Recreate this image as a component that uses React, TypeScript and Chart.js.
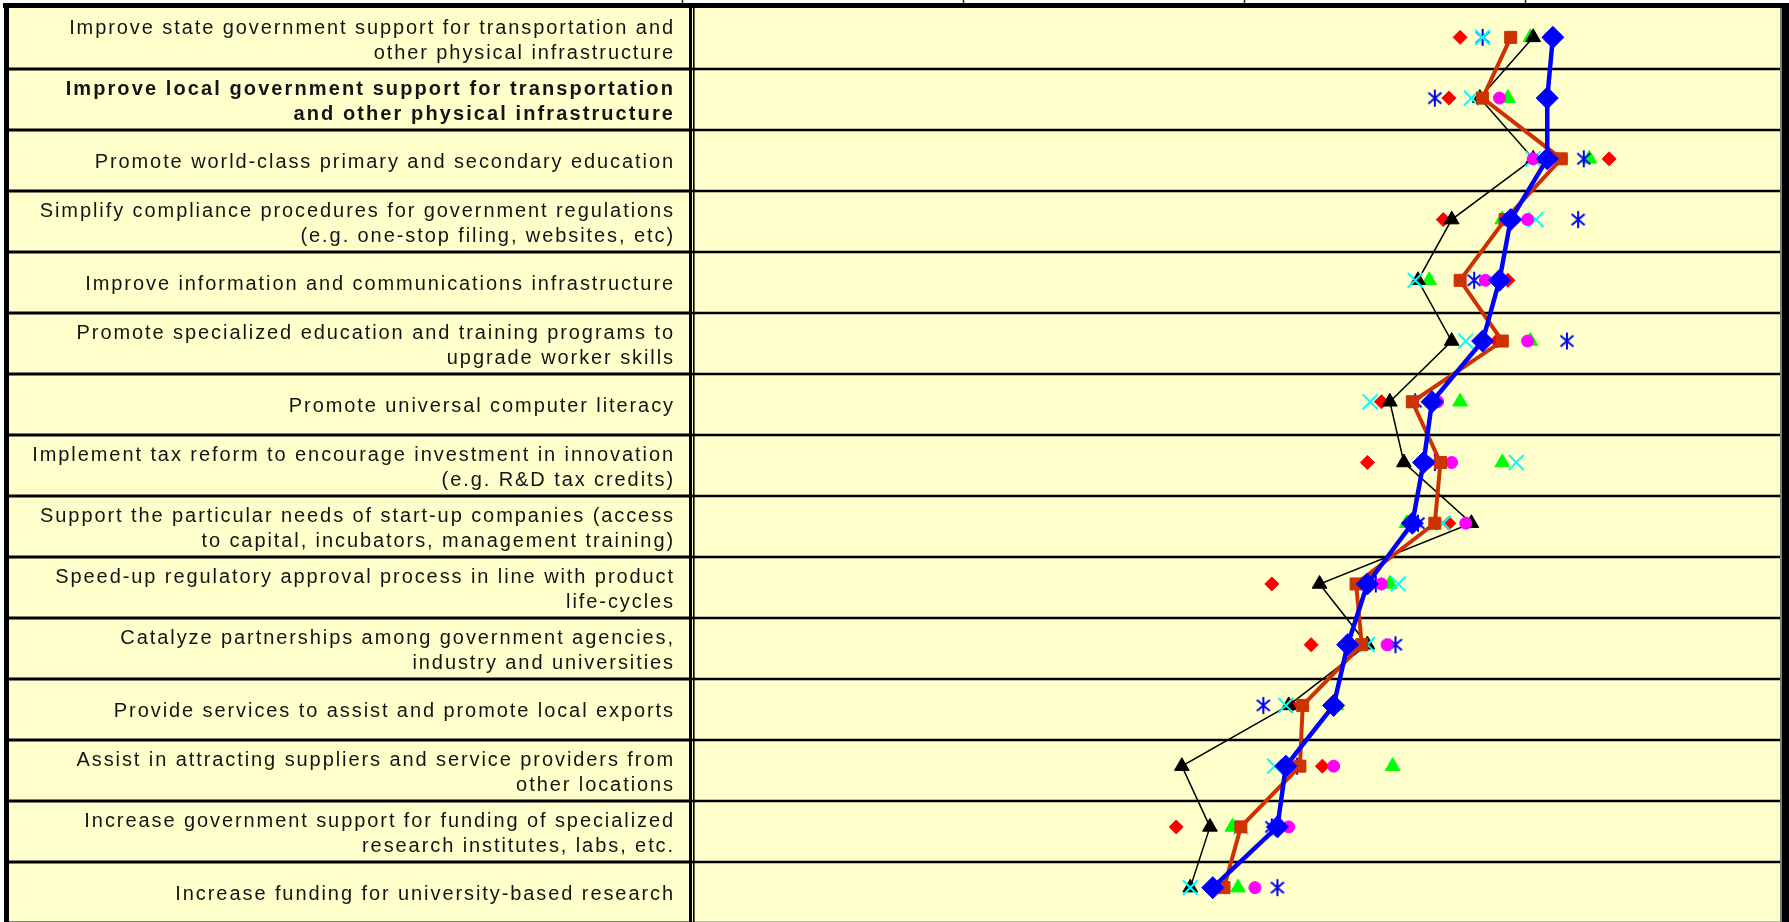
import { useEffect, useRef } from 'react';
import { Chart, registerables } from 'chart.js';

Chart.register(...registerables);

const categories: string[][] = [
  ['Improve state government support for transportation and', 'other physical infrastructure'],
  ['Improve local government support for transportation', 'and other physical infrastructure'],
  ['Promote world-class primary and secondary education'],
  ['Simplify compliance procedures for government regulations', '(e.g. one-stop filing, websites, etc)'],
  ['Improve information and communications infrastructure'],
  ['Promote specialized education and training programs to', 'upgrade worker skills'],
  ['Promote universal computer literacy'],
  ['Implement tax reform to encourage investment in innovation', '(e.g. R&D tax credits)'],
  ['Support the particular needs of start-up companies (access', 'to capital, incubators, management training)'],
  ['Speed-up regulatory approval process in line with product', 'life-cycles'],
  ['Catalyze partnerships among government agencies,', 'industry and universities'],
  ['Provide services to assist and promote local exports'],
  ['Assist in attracting suppliers and service providers from', 'other locations'],
  ['Increase government support for funding of specialized', 'research institutes, labs, etc.'],
  ['Increase funding for university-based research'],
];
const boldRows = [1];

const redDiamond = [3.77, 3.73, 4.30, 3.71, 3.94, 3.90, 3.49, 3.44, 3.73, 3.10, 3.24, 3.17, 3.28, 2.76, 2.89];
const blueAsterisk = [3.85, 3.68, 4.21, 4.19, 3.82, 4.15, 3.61, 3.68, 3.62, 3.47, 3.54, 3.07, 3.19, 3.10, 3.12];
const cyanCross = [3.85, 3.81, 4.03, 4.04, 3.61, 3.79, 3.45, 3.97, 3.71, 3.55, 3.44, 3.15, 3.11, 2.99, 2.81];
const magentaCircle = [4.09, 3.91, 4.03, 4.01, 3.86, 4.01, 3.69, 3.74, 3.79, 3.49, 3.51, 3.31, 3.32, 3.16, 3.04];
const greenTriangle = [4.02, 3.94, 4.23, 3.92, 3.66, 4.02, 3.77, 3.92, 3.58, 3.52, 3.44, 3.33, 3.53, 2.96, 2.98];
const blackTriangle = [4.03, 3.84, 4.03, 3.74, 3.62, 3.74, 3.52, 3.57, 3.81, 3.27, 3.44, 3.16, 2.78, 2.88, 2.81];
const orangeSquare = [3.95, 3.85, 4.13, 3.93, 3.77, 3.92, 3.60, 3.70, 3.68, 3.40, 3.42, 3.21, 3.20, 2.99, 2.93];
const blueDiamond = [4.10, 4.08, 4.08, 3.95, 3.91, 3.85, 3.67, 3.64, 3.60, 3.44, 3.37, 3.32, 3.15, 3.12, 2.89];

const xMin = 1.048;
const xMax = 4.908;
const topTicks = [1, 2, 3, 4];

const YELLOW = '#FFFFCC';
const TABLE_TOP = 8;
const ROW_H = 61;

function makeAsterisk(color: string): HTMLCanvasElement {
  const c = document.createElement('canvas');
  c.width = 18;
  c.height = 19;
  const g = c.getContext('2d')!;
  g.strokeStyle = color;
  g.lineWidth = 2;
  g.beginPath();
  g.moveTo(9, 1);
  g.lineTo(9, 18);
  g.moveTo(2.5, 4);
  g.lineTo(15.5, 15);
  g.moveTo(2.5, 15);
  g.lineTo(15.5, 4);
  g.stroke();
  return c;
}

const tablePlugin = {
  id: 'tablePlugin',
  beforeDatasetsDraw(chart: any) {
    const ctx = chart.ctx as CanvasRenderingContext2D;
    const { left, right } = chart.chartArea;
    const xS = chart.scales.x;
    const W = chart.width;
    const H = chart.height;
    const n = categories.length;
    const top = TABLE_TOP;
    ctx.save();
    // background
    ctx.fillStyle = '#FFFFFF';
    ctx.fillRect(0, 0, W, H);
    ctx.fillStyle = YELLOW;
    ctx.fillRect(4, top, W - 8, H - top);
    // top ticks
    ctx.strokeStyle = '#222';
    ctx.lineWidth = 1.5;
    topTicks.forEach((t) => {
      const px = Math.round(xS.getPixelForValue(t)) + 0.5;
      ctx.beginPath();
      ctx.moveTo(px, 0);
      ctx.lineTo(px, top);
      ctx.stroke();
    });
    // row lines
    ctx.strokeStyle = '#000';
    for (let i = 1; i <= n; i++) {
      const yy = top + i * ROW_H;
      ctx.lineWidth = 3;
      ctx.beginPath();
      ctx.moveTo(6, yy);
      ctx.lineTo(left - 4, yy);
      ctx.stroke();
      ctx.lineWidth = 2.5;
      ctx.beginPath();
      ctx.moveTo(left - 4, yy);
      ctx.lineTo(right, yy);
      ctx.stroke();
    }
    // double vertical divider
    ctx.fillStyle = '#000';
    ctx.fillRect(left - 6, top, 3, H - top);
    ctx.fillRect(left - 2, top, 1.6, H - top);
    // outer frame
    ctx.fillRect(3, 3, right + 2, top - 3);
    ctx.fillRect(4, 3, 5, H - 3);
    ctx.fillStyle = '#777';
    ctx.fillRect(right, top, 1, H - top);
    ctx.fillStyle = '#000';
    ctx.fillRect(right + 1.5, 3, W - right - 1.5, H - 3);
    // labels
    ctx.fillStyle = '#141414';
    ctx.textAlign = 'right';
    ctx.textBaseline = 'middle';
    const textRight = left - 20;
    categories.forEach((lines, i) => {
      const cy = top + (i + 0.5) * ROW_H;
      const lh = 25;
      const bold = boldRows.includes(i);
      ctx.font = (bold ? 'bold ' : '') + '20px "Liberation Sans", Arial, sans-serif';
      (ctx as any).letterSpacing = bold ? '2.1px' : '1.92px';
      lines.forEach((ln, k) => {
        const yy = cy - ((lines.length - 1) * lh) / 2 + k * lh + 2;
        ctx.fillText(ln, textRight, yy);
      });
    });
    ctx.restore();
  },
};

export default function App() {
  const ref = useRef<HTMLCanvasElement | null>(null);
  useEffect(() => {
    if (!ref.current) return;
    const asterisk = makeAsterisk('#0000FF');
    const pointOnly = (label: string, data: number[], style: any, color: string, radius: number, bw: number) => ({
      label,
      data,
      showLine: false,
      pointStyle: style,
      pointRadius: radius,
      pointBackgroundColor: color,
      pointBorderColor: color,
      pointBorderWidth: bw,
      borderColor: color,
      backgroundColor: color,
    });
    const chart = new Chart(ref.current, {
      type: 'line',
      data: {
        labels: categories.map((c) => c.join(' ')),
        datasets: [
          {
            label: 'Blue diamond',
            data: blueDiamond,
            borderColor: '#0000FF',
            borderWidth: 4.5,
            pointStyle: 'rectRot',
            pointRadius: 11,
            pointBackgroundColor: '#0000FF',
            pointBorderColor: '#0000FF',
            pointBorderWidth: 1,
            tension: 0,
          },
          {
            label: 'Orange square',
            data: orangeSquare,
            borderColor: '#CC3300',
            borderWidth: 4,
            pointStyle: 'rect',
            pointRadius: 8.5,
            pointBackgroundColor: '#CC3300',
            pointBorderColor: '#CC3300',
            pointBorderWidth: 1,
            tension: 0,
          },
          pointOnly('Magenta', magentaCircle, 'circle', '#FF00FF', 6, 1),
          pointOnly('Cyan', cyanCross, 'crossRot', '#00FFFF', 10.5, 2),
          {
            label: 'Black triangle',
            data: blackTriangle,
            borderColor: '#000000',
            borderWidth: 1.5,
            pointStyle: 'triangle',
            pointRadius: 8.5,
            pointBackgroundColor: '#000000',
            pointBorderColor: '#000000',
            pointBorderWidth: 1,
            tension: 0,
          },
          pointOnly('Asterisk', blueAsterisk, asterisk, '#0000FF', 9, 0),
          pointOnly('Green', greenTriangle, 'triangle', '#00FF00', 8.5, 1),
          pointOnly('Red', redDiamond, 'rectRot', '#FF0000', 7, 1),
        ],
      },
      options: {
        indexAxis: 'y',
        animation: false,
        responsive: false,
        devicePixelRatio: 1,
        layout: { autoPadding: false, padding: { left: 695, right: 9, top: 7, bottom: 4 } },
        scales: {
          x: { type: 'linear', min: xMin, max: xMax, display: false },
          y: { type: 'category', offset: true, display: false },
        },
        plugins: {
          legend: { display: false },
          tooltip: { enabled: false },
        },
      },
      plugins: [tablePlugin],
    } as any);
    return () => chart.destroy();
  }, []);
  return (
    <div style={{ position: 'absolute', left: 0, top: 0, width: 1789, height: 922 }}>
      <canvas ref={ref} width={1789} height={922} />
    </div>
  );
}
